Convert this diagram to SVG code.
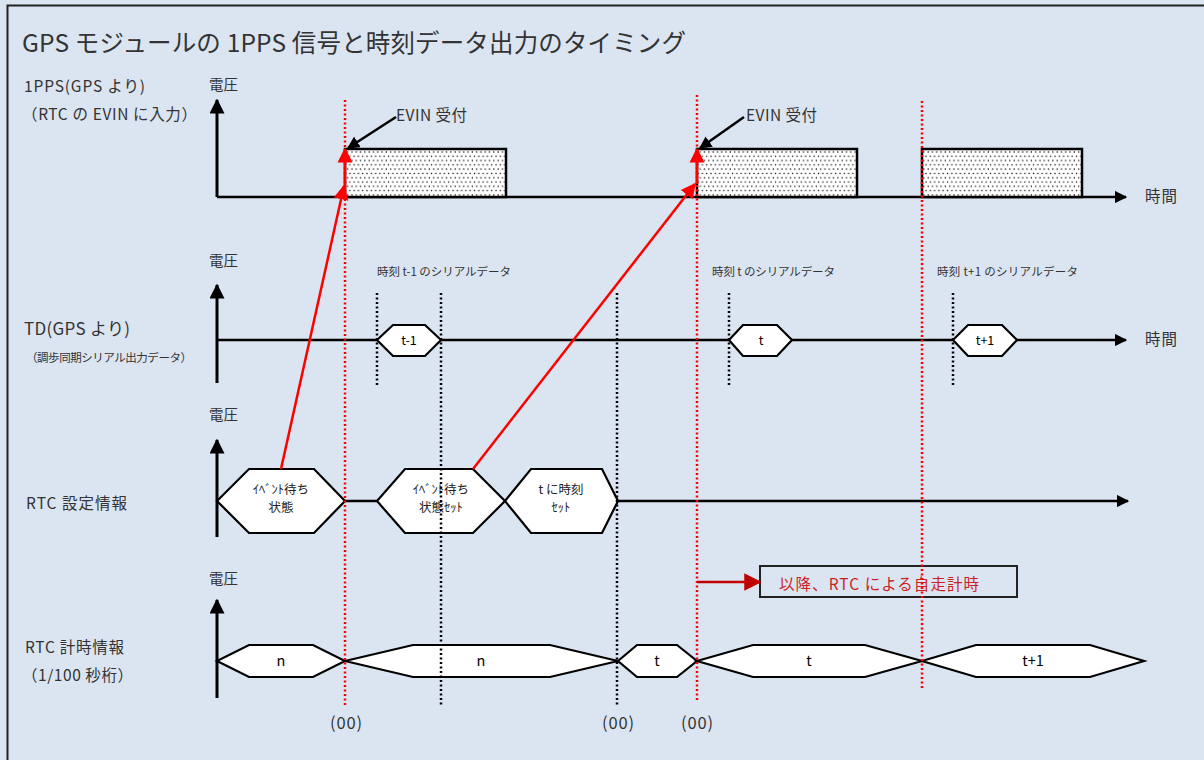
<svg xmlns="http://www.w3.org/2000/svg" width="1204" height="760" viewBox="0 0 1204 760">
<style>
text{font-family:"Noto Sans CJK JP","Noto Sans",sans-serif;fill:#333;}
.t14{font-size:14.5px;}
.t16{font-size:15.5px;}
.t11{font-size:11.5px;}
.t12{font-size:12.5px;fill:#222;}
.ax{stroke:#000;stroke-width:3;fill:none;}
.bl{stroke:#000;stroke-width:2.5;fill:none;}
.hx{stroke:#000;stroke-width:2.2;fill:#fff;stroke-linejoin:miter;}
.rd{stroke:#ff0000;stroke-width:2.5;stroke-dasharray:2 2.5;fill:none;}
.kd{stroke:#000;stroke-width:2.5;stroke-dasharray:2 2.5;fill:none;}
.ra{stroke:#ff0000;stroke-width:2.5;fill:none;}
.ctr{text-anchor:middle;}
</style>
<defs>
<marker id="ah" viewBox="0 0 10 10" refX="9" refY="5" markerWidth="5" markerHeight="5" orient="auto" markerUnits="strokeWidth"><path d="M0,0 L10,5 L0,10 z" fill="#000"/></marker>
<marker id="ahr" viewBox="0 0 10 10" refX="9" refY="5" markerWidth="6" markerHeight="7" orient="auto" markerUnits="strokeWidth"><path d="M0,0 L10,5 L0,10 z" fill="#ff0000"/></marker>
<marker id="ahd" viewBox="0 0 10 10" refX="9" refY="5" markerWidth="7" markerHeight="8" orient="auto" markerUnits="strokeWidth"><path d="M0,0 L10,5 L0,10 z" fill="#c00000"/></marker>
<pattern id="dots" width="8.6" height="8.6" patternUnits="userSpaceOnUse">
<rect width="8.6" height="8.6" fill="#fff"/>
<circle cx="1.5" cy="1.5" r="0.75" fill="#000"/><circle cx="5.8" cy="1.5" r="0.75" fill="#000"/>
<circle cx="3.65" cy="5.8" r="0.75" fill="#000"/><circle cx="7.95" cy="5.8" r="0.75" fill="#000"/>
</pattern>
</defs>
<rect x="0" y="0" width="1204" height="760" fill="#dbe5f1"/>
<path d="M7.5,770 V5.5 H1210" stroke="#222" stroke-width="2" fill="none"/>
<text x="22" y="52" style="font-size:24.5px" textLength="664">GPS モジュールの 1PPS 信号と時刻データ出力のタイミング</text>

<g id="labels">
<text class="t16" x="24" y="92" textLength="121">1PPS(GPS より)</text>
<text class="t16" x="22" y="120" textLength="175">（RTC の EVIN に入力）</text>
<text class="t14" x="209" y="90">電圧</text>
<text class="t16" x="1145" y="202" textLength="32">時間</text>
<text class="t16" x="24" y="335" style="font-size:17px" textLength="106">TD(GPS より)</text>
<text class="t11" x="26" y="362" textLength="166">（調歩同期シリアル出力データ）</text>
<text class="t14" x="209" y="266">電圧</text>
<text class="t16" x="1145" y="345" textLength="32">時間</text>
<text class="t11" x="377" y="276" textLength="134">時刻 t-1 のシリアルデータ</text>
<text class="t11" x="712" y="276" textLength="123">時刻 t のシリアルデータ</text>
<text class="t11" x="937" y="276" textLength="141">時刻 t+1 のシリアルデータ</text>
<text class="t14" x="209" y="420">電圧</text>
<text class="t16" x="26" y="509" textLength="101">RTC 設定情報</text>
<text class="t14" x="209" y="584">電圧</text>
<text class="t16" x="25" y="653" textLength="99">RTC 計時情報</text>
<text class="t16" x="22" y="681" textLength="111">（1/100 秒桁）</text>
<text class="t16" x="330" y="729" style="font-size:16.5px" textLength="32">(00)</text>
<text class="t16" x="602" y="729" style="font-size:16.5px" textLength="32">(00)</text>
<text class="t16" x="681" y="729" style="font-size:16.5px" textLength="32">(00)</text>
<text class="t16" x="396" y="121" textLength="71">EVIN 受付</text>
<text class="t16" x="746" y="121" textLength="71">EVIN 受付</text>
</g>

<g id="axes">
<path class="ax" d="M217,197 V100" marker-end="url(#ah)"/>
<path class="ax" d="M217,383 V285" marker-end="url(#ah)"/>
<path class="ax" d="M217,537 V440" marker-end="url(#ah)"/>
<path class="ax" d="M217,698 V600" marker-end="url(#ah)"/>
</g>

<g id="pulses">
<path class="bl" d="M217,197 H1126" marker-end="url(#ah)"/>
<rect x="345" y="149" width="161" height="48" fill="url(#dots)" stroke="#000" stroke-width="2.5"/>
<rect x="697" y="149" width="160" height="48" fill="url(#dots)" stroke="#000" stroke-width="2.5"/>
<rect x="922" y="149" width="160" height="48" fill="url(#dots)" stroke="#000" stroke-width="2.5"/>
</g>

<g id="td">
<path class="bl" d="M217,340 H1126" marker-end="url(#ah)"/>
<polygon class="hx" points="377,340 393,325 425,325 441,340 425,356 393,356"/>
<text class="t11 ctr" x="409" y="345" style="fill:#000;font-size:12.5px">t-1</text>
<polygon class="hx" points="729,340 743,325 777,325 792,340 777,356 743,356"/>
<text class="t11 ctr" x="761" y="345" style="fill:#000;font-size:12.5px">t</text>
<polygon class="hx" points="953,340 968,325 1002,325 1017,340 1002,356 968,356"/>
<text class="t11 ctr" x="985" y="345" style="fill:#000;font-size:12.5px">t+1</text>
</g>

<g id="rtcset">
<path class="bl" d="M344,501 H377"/>
<path class="bl" d="M618,501 H1128" marker-end="url(#ah)"/>
<polygon class="hx" points="217,501 249,469 314,469 345,501 314,533 249,533"/>
<text class="t12 ctr" x="281" y="494">ｲﾍﾞﾝﾄ待ち</text>
<text class="t12 ctr" x="281" y="512">状態</text>
<polygon class="hx" points="377,501 405,469 473,469 505,501 473,533 405,533"/>
<text class="t12 ctr" x="441" y="494">ｲﾍﾞﾝﾄ待ち</text>
<text class="t12 ctr" x="441" y="512">状態ｾｯﾄ</text>
<polygon class="hx" points="505,501 531,469 602,469 618,501 602,533 531,533"/>
<text class="t12 ctr" x="561" y="494">t に時刻</text>
<text class="t12 ctr" x="561" y="512">ｾｯﾄ</text>
</g>

<g id="rtcclock">
<polygon class="hx" points="217,661 249,645 313,645 345,661 313,677 249,677"/>
<text class="t14 ctr" x="281" y="666" style="fill:#000">n</text>
<polygon class="hx" points="345,661 413,645 550,645 618,661 550,677 413,677"/>
<text class="t14 ctr" x="481" y="666" style="fill:#000">n</text>
<polygon class="hx" points="618,661 637,645 677,645 697,661 677,677 637,677"/>
<text class="t14 ctr" x="657" y="666" style="fill:#000">t</text>
<polygon class="hx" points="697,661 753,645 865,645 922,661 865,677 753,677"/>
<text class="t14 ctr" x="809" y="666" style="fill:#000">t</text>
<polygon class="hx" points="922,661 976,645 1090,645 1144,661 1090,677 976,677"/>
<text class="t14 ctr" x="1033" y="666" style="fill:#000">t+1</text>
</g>

<g id="note">
<rect x="760" y="566" width="257" height="31" fill="none" stroke="#222" stroke-width="2"/>
<text class="t16" x="779" y="590" style="fill:#cc1f1f" textLength="200">以降、RTC による自走計時</text>
</g>

<g id="connectors">
<path class="rd" d="M345,100 V707"/>
<path class="rd" d="M697,95 V702"/>
<path class="rd" d="M922,101 V690"/>
<path class="kd" d="M377,293 V387"/>
<path class="kd" d="M441,293 V707"/>
<path class="kd" d="M617,293 V707"/>
<path class="kd" d="M729,293 V387"/>
<path class="kd" d="M953,293 V387"/>
<path d="M396,117 L348,148" stroke="#000" stroke-width="2.5" fill="none" marker-end="url(#ah)"/>
<path d="M744,117 L700,148" stroke="#000" stroke-width="2.5" fill="none" marker-end="url(#ah)"/>
<path class="ra" d="M281,469 L344,186" marker-end="url(#ahr)"/>
<path class="ra" d="M345,197 V149" marker-end="url(#ahr)"/>
<path class="ra" d="M473,469 L695,184" marker-end="url(#ahr)"/>
<path class="ra" d="M697,184 V149" marker-end="url(#ahr)"/>
<path d="M697,582 H760" stroke="#c00000" stroke-width="2.5" fill="none" marker-end="url(#ahd)"/>
</g>
</svg>
